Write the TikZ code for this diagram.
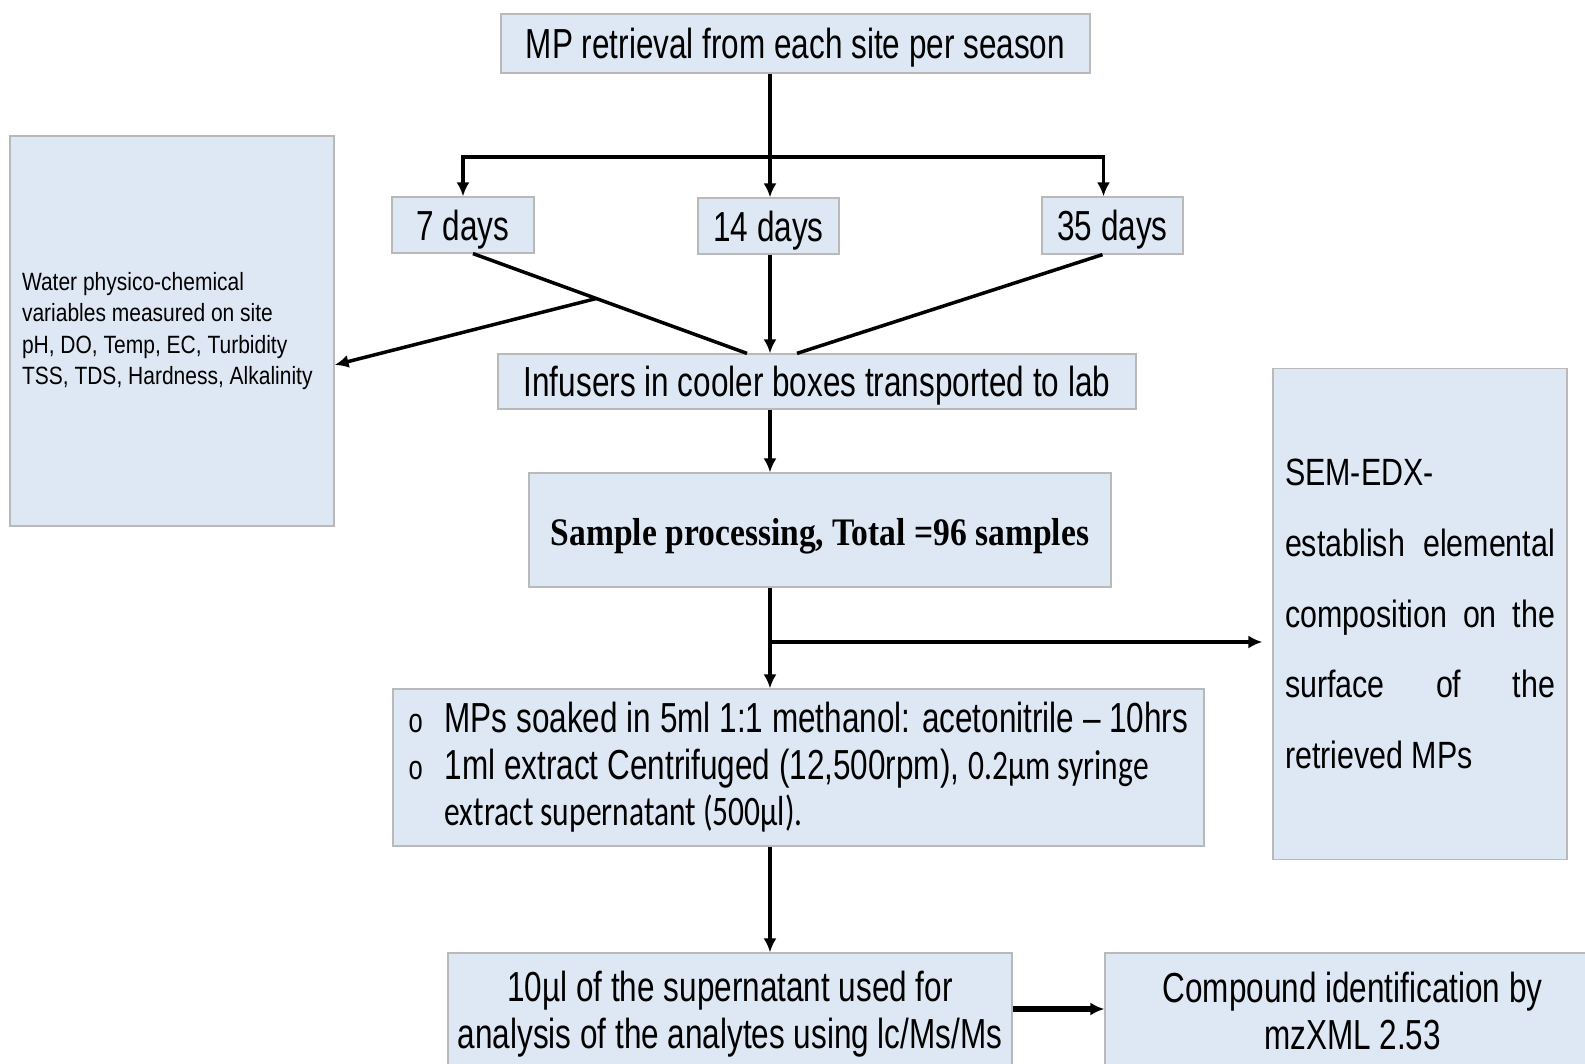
\documentclass[tikz,border=0pt]{standalone}
\usepackage{fontspec}
\setmainfont{Liberation Sans}
\newfontfamily\narrowfont{Liberation Sans}[FakeStretch=0.75]
\newfontfamily\sidefont{Liberation Sans}[FakeStretch=0.84]
\newfontfamily\semfont{Liberation Sans}[FakeStretch=0.8]
\newfontfamily\boldserif{Liberation Serif}[FakeStretch=0.86]
\newfontfamily\calnarrow{Carlito}[FakeStretch=0.75]
\usepackage{tikz}
\usetikzlibrary{arrows.meta, calc}

\definecolor{boxblue}{RGB}{221,232,244}
\definecolor{boxline}{RGB}{185,185,185}
\newcommand{\mpbullet}{\makebox[36pt][l]{\fontsize{34}{34}\selectfont o}}

\begin{document}
\begin{tikzpicture}[x=1pt, y=-1pt, >={Latex[length=14pt,width=13pt]},
    box/.style={draw=boxline, line width=1.2pt, fill=boxblue, inner sep=0pt},
    big/.style={font=\narrowfont\fontsize{42}{46.5}\selectfont},
    lowtext/.style={text height=34pt, text depth=3pt},
    flow/.style={line width=3.5pt}]
    \useasboundingbox (0,0) rectangle (1585,1064);
    \clip (0,0) rectangle (1585,1064);
    \fill[white] (0,0) rectangle (1585,1064);

    % 1. Boxes
    \node[box, big, lowtext, minimum width=589, minimum height=59] (retrieval) at (795.5,43.5) {MP retrieval from each site per season};
    \node[box, big, lowtext, minimum width=142, minimum height=56] (d7) at (463,225) {7 days};
    \node[box, big, lowtext, minimum width=141, minimum height=56] (d14) at (768.5,226) {14 days};
    \node[box, big, lowtext, minimum width=141, minimum height=57] (d35) at (1112.5,225.5) {35 days};
    \node[box, minimum width=324, minimum height=390, text width=300, align=flush left,
        font=\sidefont\fontsize{25}{31.3}\selectfont] (water) at (172,331)
        {Water physico-chemical\\ variables measured on site\\ pH, DO, Temp, EC, Turbidity\\ TSS, TDS, Hardness, Alkalinity};
    \node[box, big, lowtext, minimum width=638, minimum height=55] (inf) at (817,381.5) {Infusers in cooler boxes transported to lab};
    \node[box, minimum width=582, minimum height=114, text height=33pt, text depth=2pt,
        font=\boldserif\bfseries\fontsize{39}{42}\selectfont] (processing) at (820,530) {Sample processing, Total =96 samples};
    \node[box, minimum width=294, minimum height=491, text width=270, align=justify,
        font=\semfont\fontsize{38}{70.7}\selectfont] (sem) at (1420,614)
        {SEM-EDX-\\ establish elemental\linebreak composition on the\linebreak surface of the\linebreak retrieved MPs};
    \node[box, big, minimum width=811, minimum height=157, align=left] (soak) at (798.5,767.5)
        {\mpbullet MPs soaked in 5ml 1:1 methanol: acetonitrile – 10hrs\\
         \mpbullet 1ml extract Centrifuged (12,500rpm), {\calnarrow 0.2µm syringe}\\
         \hspace*{36pt}{\calnarrow extract supernatant (500µl).}};
    \node[box, big, minimum width=564, minimum height=122, align=center] (inject) at (730,1014)
        {10µl of the supernatant used for\\ analysis of the analytes using lc/Ms/Ms};
    \node[box, big, minimum width=495, minimum height=116, align=center] (ident) at (1352.5,1011)
        {Compound identification by\\ mzXML 2.53};

    % 2. Split into the three retrieval times
    \coordinate (spine) at (770,157);
    \draw[flow] (spine |- retrieval.south) -- (spine);
    \draw[flow, ->] (spine) -| (d7.north);
    \draw[flow, ->] (spine) -- (spine |- d14.north);
    \draw[flow, ->] (spine) -| ([xshift=-9pt]d35.north);

    % 3. Collect to the cooler boxes, side branch to the water variables
    \draw[flow] ([xshift=10pt]d7.south) -- coordinate[pos=0.45] (fork) ([xshift=-70pt]inf.north);
    \draw[flow, ->] (fork) -- ([yshift=-34pt]water.east);
    \draw[flow, ->] (spine |- d14.south) -- (spine |- inf.north);
    \draw[flow] ([xshift=-10pt]d35.south) -- ([xshift=-20pt]inf.north);

    % 4. Lab chain
    \draw[flow, ->] (spine |- inf.south) -- (spine |- processing.north);
    \draw[flow, ->] (spine |- processing.south) -- (spine |- soak.north);
    \coordinate (fork2) at (770,642);
    \draw[flow, ->, shorten >=10pt] (fork2) -- (fork2 -| sem.west);
    \draw[flow, ->] (spine |- soak.south) -- (spine |- inject.north);
    \draw[line width=6pt, ->] ([yshift=5pt]inject.east) coordinate (link) -- (link -| ident.west);
\end{tikzpicture}
\end{document}
